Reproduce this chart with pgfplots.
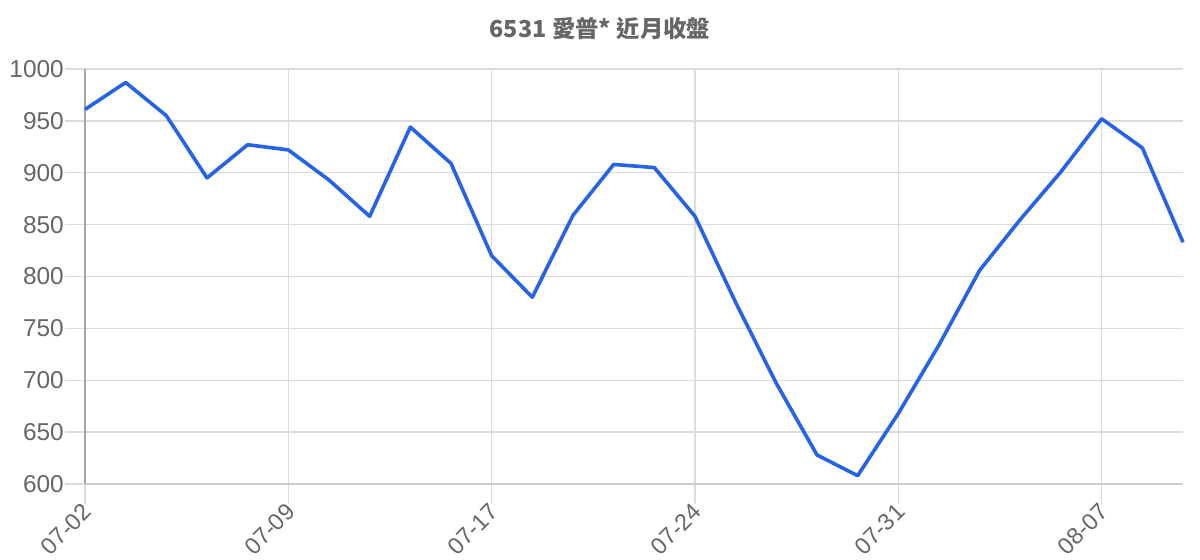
\documentclass[border=0pt]{standalone}
\usepackage{pgfplots}
\pgfplotsset{compat=1.18}
\usepackage{fontspec}
\setmainfont{Liberation Sans}
\newfontfamily\cjk{Noto Sans CJK TC}
\definecolor{linec}{HTML}{2563EB}
\definecolor{gridc}{HTML}{DCDCDC}
\definecolor{txtc}{HTML}{666666}
\begin{document}
\begin{tikzpicture}
\useasboundingbox (-85bp,-76bp) rectangle (1115bp,484bp);
\begin{axis}[
  at={(0,0)}, anchor=south west,
  scale only axis, width=1098bp, height=415bp,
  xmin=0, xmax=27, ymin=600, ymax=1000,
  xtick={0,5,10,15,20,25},
  xticklabels={07-02,07-09,07-17,07-24,07-31,08-07},
  ytick={600,650,...,1000},
  grid=major,
  major grid style={draw=gridc, line width=1.4bp},
  tick style={draw=gridc, line width=1.4bp},
  major tick length=20bp,
  tick align=outside,
  xtick pos=bottom, ytick pos=left,
  axis x line*=bottom, axis y line*=left,
  x axis line style={draw=black!20, line width=1.4bp, -},
  y axis line style={draw=black!35, line width=1.4bp, -},
  /pgf/number format/assume math mode=true,
  /pgf/number format/1000 sep={},
  yticklabel style={font=\fontsize{24.5}{28}\selectfont, text=txtc, inner sep=1bp},
  xticklabel style={font=\fontsize{23.5}{27}\selectfont, text=txtc, rotate=45, anchor=north east, inner sep=1bp, xshift=0bp, yshift=5bp},
  title={\cjk\bfseries 6531 愛普* 近月收盤},
  title style={font=\fontsize{23.5}{27}\selectfont, text=txtc, at={(0.5,1)}, anchor=center, yshift=34bp, xshift=-34bp},
  clip=false,
]
\addplot[linec, line width=3.6bp, line join=round] coordinates {
(0,961) (1,987) (2,955) (3,895) (4,927) (5,922) (6,893) (7,858)
(8,944) (9,909) (10,820) (11,780) (12,859) (13,908) (14,905) (15,858)
(16,775) (17,697) (18,628) (19,608) (20,668) (21,734) (22,806) (23,855)
(24,901) (25,952) (26,924) (27,833)
};
\end{axis}
\end{tikzpicture}
\end{document}
